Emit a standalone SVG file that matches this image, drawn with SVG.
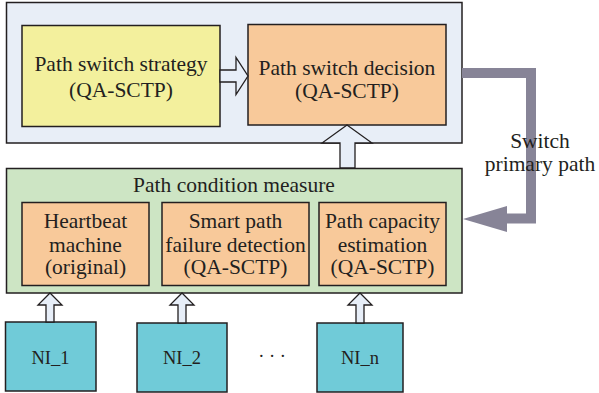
<svg xmlns="http://www.w3.org/2000/svg" width="599" height="393" viewBox="0 0 599 393">
<style>
.box{stroke:#231f20;stroke-width:1.5}
.t{font-family:"Liberation Serif",serif;font-size:21.5px;fill:#231f20;text-anchor:middle}
.n{font-family:"Liberation Serif",serif;font-size:18.5px;fill:#231f20;text-anchor:middle}
.ua{fill:#e7eef8;stroke:#231f20;stroke-width:1.3;stroke-linejoin:miter}
</style>
<rect width="599" height="393" fill="#ffffff"/>
<g id="top-container"><rect class="box" x="6.5" y="2.5" width="455.5" height="140.5" fill="#e8eef7"/></g>
<g id="strategy"><rect class="box" x="22" y="25.5" width="198" height="101" fill="#f3f09d"/>
<text class="t" x="121" y="71">Path switch strategy</text><text class="t" x="121" y="97">(QA-SCTP)</text></g>
<g id="decision"><rect class="box" x="248" y="24.5" width="198" height="100.5" fill="#f8c99a"/>
<text class="t" x="347" y="75">Path switch decision</text><text class="t" x="347" y="98">(QA-SCTP)</text></g>
<g id="measure"><rect class="box" x="6.5" y="168.5" width="455.5" height="124.5" fill="#cde5c4"/>
<text class="t" x="234" y="192">Path condition measure</text></g>
<g id="heartbeat"><rect class="box" x="22" y="202.5" width="127" height="83" fill="#f8c99a"/>
<text class="t" x="85.5" y="228">Heartbeat</text><text class="t" x="85.5" y="252">machine</text><text class="t" x="85.5" y="274">(original)</text></g>
<g id="smart"><rect class="box" x="162" y="202.5" width="147" height="83" fill="#f8c99a"/>
<text class="t" x="235.5" y="228">Smart path</text><text class="t" x="235.5" y="252">failure detection</text><text class="t" x="235.5" y="274">(QA-SCTP)</text></g>
<g id="capacity"><rect class="box" x="319" y="202.5" width="127" height="83" fill="#f8c99a"/>
<text class="t" x="382.5" y="228">Path capacity</text><text class="t" x="382.5" y="252">estimation</text><text class="t" x="382.5" y="274">(QA-SCTP)</text></g>
<g id="ni1"><rect class="box" x="5.5" y="322" width="90.5" height="69" fill="#70cbd8"/><text class="n" x="50.5" y="364">NI_1</text></g>
<g id="ni2"><rect class="box" x="137" y="323" width="90" height="69" fill="#70cbd8"/><text class="n" x="182" y="364">NI_2</text></g>
<g id="nin"><rect class="box" x="317" y="323" width="86" height="69" fill="#70cbd8"/><text class="n" x="360" y="364">NI_n</text></g>
<text class="n" x="272" y="362">· · ·</text>
<g id="connectors">
<polygon class="ua" points="220,70 236,70 236,57.5 248,76 236,94.5 236,82 220,82"/>
<polygon class="ua" points="340,168 340,143 322,143 347,125 372,143 355,143 355,168"/>
<polygon class="ua" points="46,322 46,305 38,305 50,293 62,305 54,305 54,322"/>
<polygon class="ua" points="178,323 178,305 170,305 182,293 194,305 186,305 186,323"/>
<polygon class="ua" points="356,323 356,305 348,305 360,293 372,305 364,305 364,323"/>
<path d="M462,73 H531 V218.5 H505" fill="none" stroke="#878497" stroke-width="10"/>
<polygon points="507,206 463,219 507,232" fill="#878497"/>
</g>
<text class="t" x="540" y="148">Switch</text>
<text class="t" x="540" y="171">primary path</text>
</svg>
